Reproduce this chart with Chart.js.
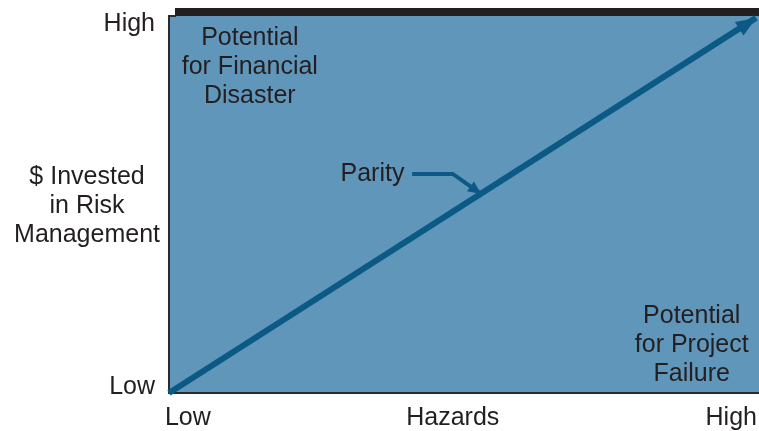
<!DOCTYPE html>
<html>
<head>
<meta charset="utf-8">
<script src="https://cdn.jsdelivr.net/npm/chart.js@4/dist/chart.umd.min.js"></script>
<style>
  html, body { margin: 0; padding: 0; background: #ffffff; }
  #wrap { width: 759px; height: 431px; position: relative; }
</style>
</head>
<body>
<div id="wrap"><canvas id="c"></canvas></div>
<script>
// ---- data ----
const diagonalX = [0, 0.995];
const diagonalY = [0, 0.995];
const pointerX = [0.412, 0.481, 0.529];
const pointerY = [0.581, 0.581, 0.528];

const xTickValues = [0.032, 0.481, 0.953];
const xTickLabels = ['Low', 'Hazards', 'High'];
const yTickValues = [0.016, 0.979];
const yTickLabels = ['Low', 'High'];
const yTitleLines = ['$ Invested', 'in Risk', 'Management'];
const yTitlePos = 0.497;

const topLeftLabel = ['Potential', 'for Financial', 'Disaster'];
const topLeftPos = [0.137, 0.942];
const bottomRightLabel = ['Potential', 'for Project', 'Failure'];
const bottomRightPos = [0.886, 0.203];
const parityLabel = 'Parity';
const parityPos = [0.399, 0.581];

// ---- styles ----
const FONT = '"Liberation Sans", Arial, Helvetica, sans-serif';
const FONT_SIZE = 25;
const TEXT = '#231f20';
const FILL = '#6196bb';
const LINE = '#0b5a86';
const BORDER = '#2b2b2b';
const LINE_H = 29;

function toPoints(xs, ys) { return xs.map((x, i) => ({ x: x, y: ys[i] })); }

const decor = {
  id: 'decor',
  beforeDraw(chart) {
    const { ctx, chartArea: a } = chart;
    ctx.save();
    ctx.fillStyle = FILL;
    ctx.fillRect(a.left, a.top, a.right - a.left, a.bottom - a.top);
    // top edge and dark bar
    ctx.fillStyle = BORDER;
    ctx.fillRect(a.left - 1, a.top - 1, 8, 2);
    ctx.fillStyle = '#231f20';
    ctx.fillRect(a.left + 6, a.top - 8, a.right - a.left - 6, 8);
    ctx.restore();
  },
  afterDatasetsDraw(chart) {
    const { ctx } = chart;
    ctx.save();
    chart.data.datasets.forEach((ds, i) => {
      const meta = chart.getDatasetMeta(i);
      const pts = meta.data;
      const n = pts.length;
      const p1 = pts[n - 2], p2 = pts[n - 1];
      const ang = Math.atan2(p2.y - p1.y, p2.x - p1.x);
      const L = ds.headLen, W = ds.headWidth;
      ctx.fillStyle = ds.borderColor;
      ctx.beginPath();
      ctx.moveTo(p2.x, p2.y);
      ctx.lineTo(p2.x - L * Math.cos(ang) + W * Math.sin(ang), p2.y - L * Math.sin(ang) - W * Math.cos(ang));
      ctx.lineTo(p2.x - L * Math.cos(ang) - W * Math.sin(ang), p2.y - L * Math.sin(ang) + W * Math.cos(ang));
      ctx.closePath();
      ctx.fill();
    });
    ctx.restore();
  },
  afterDraw(chart) {
    const { ctx, chartArea: a, scales } = chart;
    const xs = scales.x, ys = scales.y;
    ctx.save();
    ctx.font = FONT_SIZE + 'px ' + FONT;
    ctx.fillStyle = TEXT;
    ctx.textBaseline = 'middle';
    ctx.textAlign = 'center';
    const block = (lines, pos) => {
      const cx = xs.getPixelForValue(pos[0]);
      const cy = ys.getPixelForValue(pos[1]);
      lines.forEach((t, k) => ctx.fillText(t, cx, cy + k * LINE_H));
    };
    block(topLeftLabel, topLeftPos);
    block(bottomRightLabel, bottomRightPos);
    // y title (horizontal, centred in the axis area)
    const tx = a.left * 0.515;
    const ty = ys.getPixelForValue(yTitlePos);
    yTitleLines.forEach((t, k) => ctx.fillText(t, tx, ty + (k - 1) * LINE_H));
    // parity
    ctx.textAlign = 'right';
    ctx.fillText(parityLabel, xs.getPixelForValue(parityPos[0]), ys.getPixelForValue(parityPos[1]));
    ctx.restore();
  }
};

new Chart(document.getElementById('c'), {
  type: 'line',
  data: {
    datasets: [
      {
        data: toPoints(diagonalX, diagonalY),
        borderColor: LINE, borderWidth: 6, pointRadius: 0,
        borderCapStyle: 'butt', headLen: 20, headWidth: 8, clip: false
      },
      {
        data: toPoints(pointerX, pointerY),
        borderColor: LINE, borderWidth: 4, pointRadius: 0,
        borderJoinStyle: 'miter', borderCapStyle: 'butt', headLen: 13, headWidth: 6, clip: false
      }
    ]
  },
  options: {
    responsive: true,
    maintainAspectRatio: false,
    animation: false,
    events: [],
    layout: { padding: { top: 16, left: 0, right: 0, bottom: 0 } },
    plugins: { legend: { display: false }, tooltip: { enabled: false }, title: { display: false } },
    scales: {
      x: {
        type: 'linear', min: 0, max: 1,
        grid: { display: false, drawTicks: false },
        border: { display: true, color: BORDER, width: 2 },
        afterBuildTicks: (s) => { s.ticks = xTickValues.map(v => ({ value: v })); },
        afterFit: (s) => { s.height = 38; s.paddingLeft = 0; s.paddingRight = 0; },
        ticks: {
          autoSkip: false, maxRotation: 0, padding: 10, color: TEXT,
          font: { family: FONT, size: FONT_SIZE },
          callback: (v, i) => xTickLabels[i]
        }
      },
      y: {
        type: 'linear', min: 0, max: 1,
        grid: { display: false, drawTicks: false },
        border: { display: true, color: BORDER, width: 2 },
        afterBuildTicks: (s) => { s.ticks = yTickValues.map(v => ({ value: v })); },
        afterFit: (s) => { s.width = 169; s.paddingTop = 0; s.paddingBottom = 0; },
        ticks: {
          autoSkip: false, padding: 14, color: TEXT,
          font: { family: FONT, size: FONT_SIZE },
          callback: (v, i) => yTickLabels[i]
        }
      }
    }
  },
  plugins: [decor]
});
</script>
</body>
</html>
